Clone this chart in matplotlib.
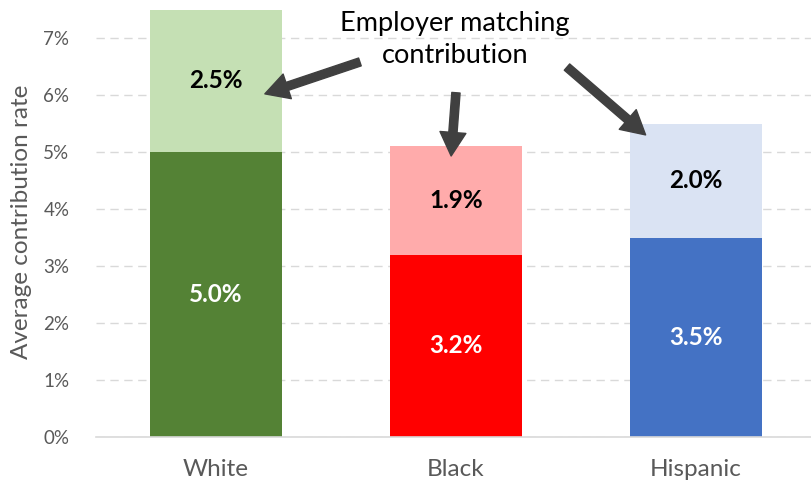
import matplotlib.pyplot as plt
from matplotlib.ticker import FuncFormatter

# Average contribution rates (%) by group
groups = ["White", "Black", "Hispanic"]
employee_rate = [5.0, 3.2, 3.5]
employer_match = [2.5, 1.9, 2.0]

base_colors = ["#548235", "#FF0000", "#4472C4"]
match_colors = ["#C5E0B4", "#FFABAB", "#DAE3F3"]

plt.rcParams["font.family"] = ["Lato", "DejaVu Sans"]

fig = plt.figure(figsize=(8.12, 4.86), dpi=100)
ax = fig.add_axes([0.118, 0.1008, 0.882, 0.8855])

x = list(range(len(groups)))
width = 0.55
ax.bar(x, employee_rate, width=width, color=base_colors, zorder=2)
ax.bar(x, employer_match, width=width, bottom=employee_rate, color=match_colors, zorder=2)

for xi, b, m in zip(x, employee_rate, employer_match):
    ax.text(xi, b / 2, f"{b:.1f}%", ha="center", va="center",
            color="white", fontsize=17.5, fontweight="bold", zorder=3)
    ax.text(xi, b + m / 2, f"{m:.1f}%", ha="center", va="center",
            color="black", fontsize=17.5, fontweight="bold", zorder=3)

ax.set_xlim(-0.5, 2.483)
ax.set_ylim(0, 7.55)
ax.set_yticks(range(0, 8))
ax.yaxis.set_major_formatter(FuncFormatter(lambda v, p: f"{int(v)}%"))
ax.set_xticks(x)
ax.set_xticklabels(groups)

ax.grid(axis="y", color="#D9D9D9", linestyle=(0, (6, 4)), linewidth=1, zorder=0)
ax.set_axisbelow(True)
for side in ["top", "right", "left"]:
    ax.spines[side].set_visible(False)
ax.spines["bottom"].set_color("#D9D9D9")
ax.spines["bottom"].set_linewidth(1.2)

ax.tick_params(axis="both", length=0, colors="#595959")
ax.tick_params(axis="y", labelsize=13.5, pad=19)
ax.tick_params(axis="x", labelsize=17.5, pad=16)

ax.set_ylabel("Average contribution rate", fontsize=17.5, color="#595959", labelpad=8)

# Callout for the employer matching contribution
ax.text(0.996, 6.98, "Employer matching\ncontribution", ha="center", va="center",
        fontsize=19.5, color="black", linespacing=1.35, zorder=4)

arrows = [((0.60, 6.58), (0.204, 6.02)),
          ((1.00, 6.04), (0.98, 4.93)),
          ((1.4625, 6.49), (1.79, 5.30))]
for tail, tip in arrows:
    ax.annotate("", xy=tip, xytext=tail,
                arrowprops=dict(arrowstyle="simple,head_width=1.1,head_length=1.0,tail_width=0.35",
                                mutation_scale=17, color="#404040",
                                shrinkA=0, shrinkB=0),
                zorder=4)

fig.savefig("out.png", dpi=100)
